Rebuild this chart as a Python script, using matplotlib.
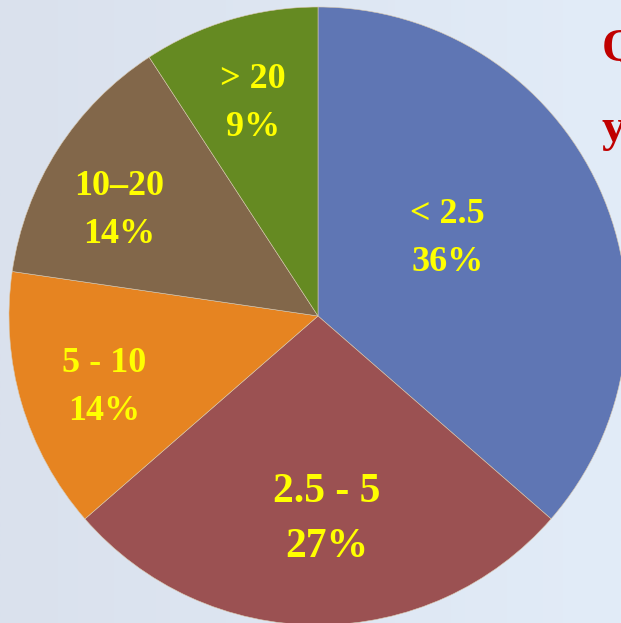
import numpy as np
import matplotlib.pyplot as plt

# Slice data (clockwise from 12 o'clock)
labels = ['< 2.5', '2.5 - 5', '5 - 10', '10–20', '> 20']
shares = [36.4, 27.2, 13.7, 13.5, 9.2]
pct_text = ['36%', '27%', '14%', '14%', '9%']
colors = ['#5F76B4', '#9B5152', '#E68421', '#82674A', '#658A22']

# label placement (fraction of radius, angle in degrees) and font sizes
label_r = [0.49, 0.66, 0.73, 0.73, 0.72]
label_ang = [31, -87.5, -161.6, 152, 107]
label_size = [26, 30, 26, 26, 26]

W, H = 621, 623
cx, cy, R = 318, 316, 309

fig = plt.figure(figsize=(W / 100, H / 100), dpi=100)

# background gradient
bg = fig.add_axes([0, 0, 1, 1])
grad = np.linspace(0, 1, 256).reshape(1, -1)
c0 = np.array([218, 225, 237]) / 255
c1 = np.array([226, 236, 248]) / 255
img = c0[None, None, :] * (1 - grad[..., None]) + c1[None, None, :] * grad[..., None]
bg.imshow(img, aspect='auto', extent=[0, 1, 0, 1])
bg.axis('off')

ax = fig.add_axes([0, 0, 1, 1])
ax.patch.set_alpha(0)
wedges, _ = ax.pie(shares, colors=colors, startangle=90, counterclock=False,
                   radius=1, wedgeprops=dict(linewidth=0.4, edgecolor='#d9c9b0'))
ax.set_xlim(-cx / R, (W - cx) / R)
ax.set_ylim(-(H - cy) / R, cy / R)
ax.set_aspect('auto')
ax.axis('off')

for lab, pct, r, a, fs in zip(labels, pct_text, label_r, label_ang, label_size):
    x = r * np.cos(np.radians(a))
    y = r * np.sin(np.radians(a))
    ax.text(x, y, lab + '\n' + pct, ha='center', va='center', color='#FFFF00',
            fontsize=fs, fontweight='bold', family='Liberation Serif',
            linespacing=1.6)

# title text on the right, clipped by the edge as in the original
fig.text(602 / W, 1 - 50 / H, 'Q', color='#C00000', fontsize=34, fontweight='bold',
         family='Liberation Serif', va='center', ha='left')
fig.text(602 / W, 1 - 130 / H, 'y', color='#C00000', fontsize=34, fontweight='bold',
         family='Liberation Serif', va='center', ha='left')

fig.savefig('out.png', dpi=100)
